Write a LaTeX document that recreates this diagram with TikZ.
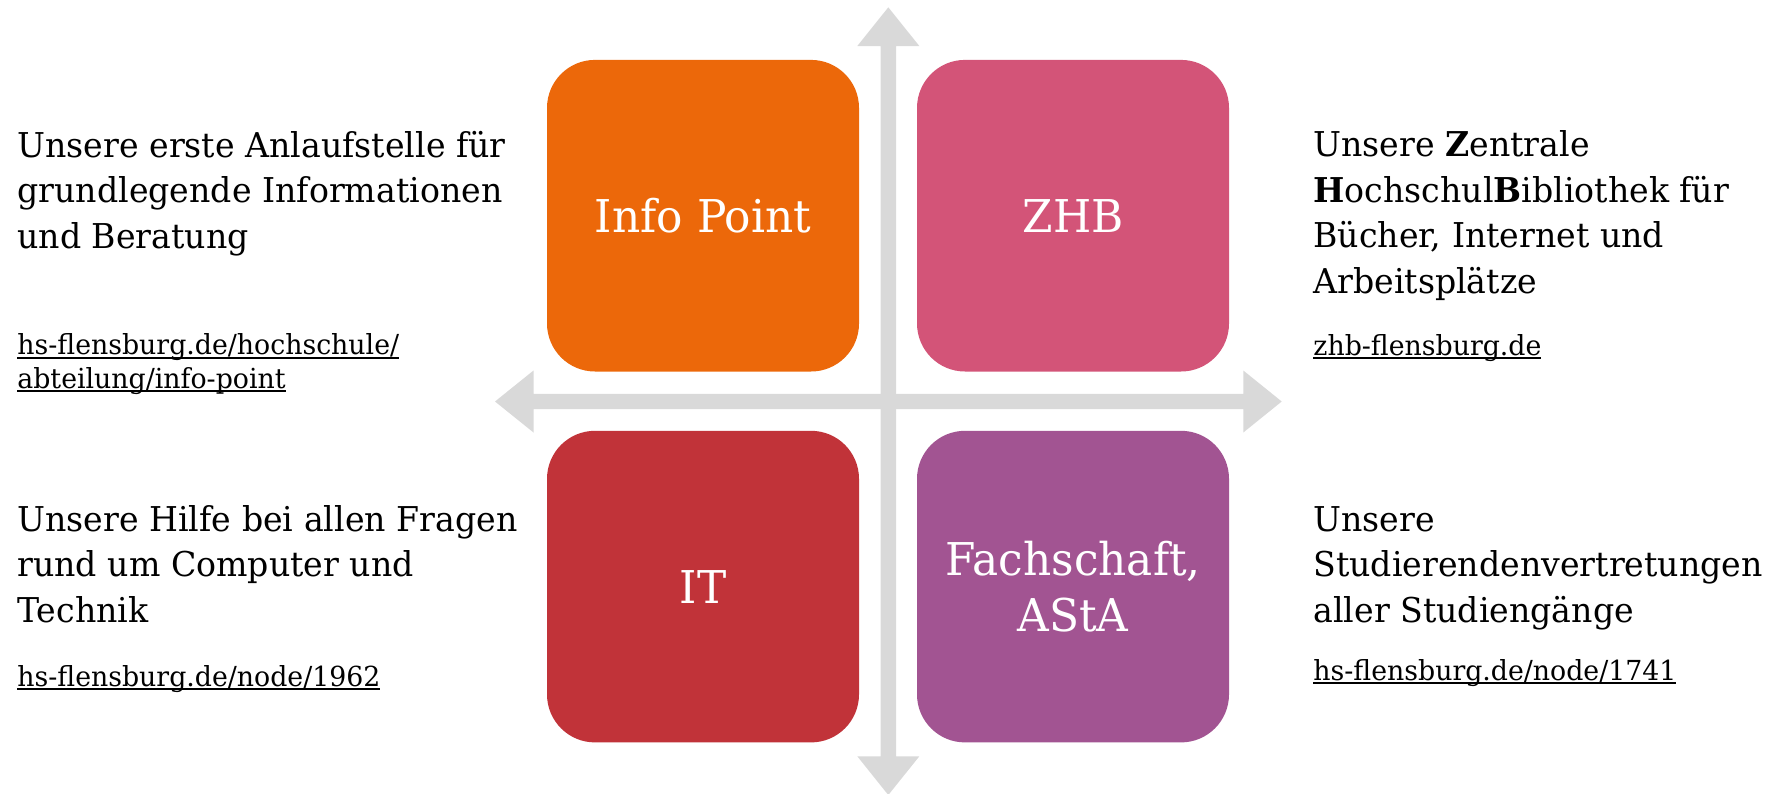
\documentclass[tikz,border=0pt]{standalone}
\usepackage{fontspec}
\setmainfont{DejaVu Serif}[FakeStretch=0.97]
\usetikzlibrary{positioning}

\definecolor{iporange}{RGB}{236,104,10}
\definecolor{zhbpink}{RGB}{211,84,120}
\definecolor{itred}{RGB}{193,51,57}
\definecolor{astapurple}{RGB}{162,84,146}
\definecolor{crossgray}{RGB}{217,217,217}

% underlined web address
\newsavebox{\linkbox}
\newcommand{\linkline}[1]{\sbox{\linkbox}{#1}\usebox{\linkbox}\llap{\rule[-1.8pt]{\wd\linkbox}{1pt}}}

\tikzset{
  tile/.style={rectangle,rounded corners=24pt,minimum width=156pt,minimum height=155.8pt,
    text=white,align=center,font=\fontsize{22.6}{28.3}\selectfont},
  blurb/.style={anchor=base west,align=left,inner sep=0pt,font=\fontsize{17.1}{22.75}\selectfont},
  weblink/.style={anchor=base west,align=left,inner sep=0pt,font=\fontsize{13.8}{16.7}\selectfont},
  crossarm/.style={fill=crossgray}
}

\begin{document}
\begin{tikzpicture}[x=0.5pt,y=-0.5pt]
    \useasboundingbox (0,0) rectangle (1781,793);
    % the cross behind the four tiles
    \fill[crossarm] (888.3,7.3) -- (919.3,46) -- (896,46) -- (896,756.3) -- (919.3,756.3) -- (888.3,795)
        -- (857.3,756.3) -- (880.6,756.3) -- (880.6,46) -- (857.3,46) -- cycle;
    \fill[crossarm] (495,401.5) -- (533.5,370.5) -- (533.5,393.9) -- (1243.3,393.9) -- (1243.3,370.5) -- (1281.7,401.5)
        -- (1243.3,432.5) -- (1243.3,409.1) -- (533.5,409.1) -- (533.5,432.5) -- cycle;

    \node[tile,fill=iporange] (info) at (703,215.7) {Info Point};
    \node[tile,fill=zhbpink] (zhb) at (1073,215.7) {ZHB};
    \node[tile,fill=itred] (it) at (703,586.6) {IT};
    \node[tile,fill=astapurple] (asta) at (1073,586.6) {Fachschaft,\\AStA};

    % texts sit on the baseline of their last line
    \node[blurb] (infotext) at (17,248.3) {Unsere erste Anlaufstelle für\\grundlegende Informationen\\und Beratung};
    \node[weblink] (infourl) at (17,388.3) {\linkline{hs-flensburg.de/hochschule/}\\\linkline{abteilung/info-point}};
    \node[blurb] (zhbtext) at (1313,293) {Unsere \textbf{Z}entrale\\\textbf{H}ochschul\textbf{B}ibliothek für\\Bücher, Internet und\\Arbeitsplätze};
    \node[weblink] (zhburl) at (1313,355) {\linkline{zhb-flensburg.de}};
    \node[blurb] (ittext) at (17,622.3) {Unsere Hilfe bei allen Fragen\\rund um Computer und\\Technik};
    \node[weblink] (iturl) at (17,686) {\linkline{hs-flensburg.de/node/1962}};
    \node[blurb] (astatext) at (1313,622) {Unsere\\Studierendenvertretungen\\aller Studiengänge};
    \node[weblink] (astaurl) at (1313,680) {\linkline{hs-flensburg.de/node/1741}};
\end{tikzpicture}
\end{document}
